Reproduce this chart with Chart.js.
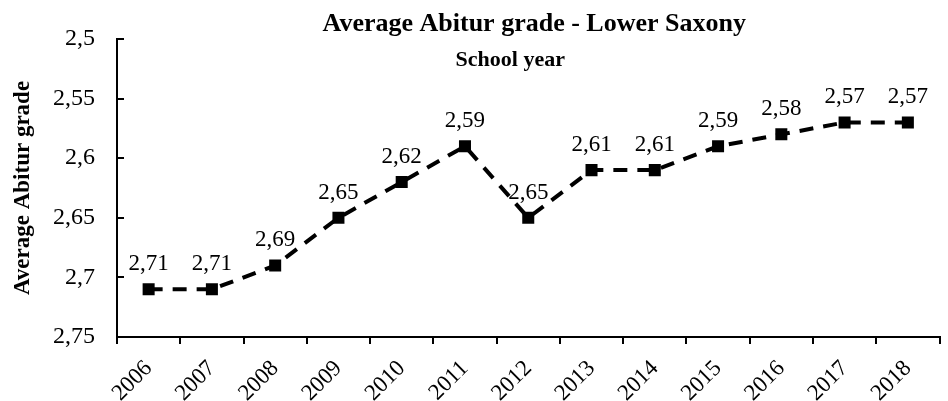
<!DOCTYPE html>
<html>
<head>
<meta charset="utf-8">
<script src="https://cdn.jsdelivr.net/npm/chart.js@4/dist/chart.umd.min.js"></script>
<style>
  body { margin: 0; background: #fff; }
  #wrap { width: 948px; height: 401px; position: relative; }
</style>
</head>
<body>
<div id="wrap"><canvas id="chart"></canvas></div>
<script>
// values
const years = ['2006', '2007', '2008', '2009', '2010', '2011', '2012', '2013', '2014', '2015', '2016', '2017', '2018'];
const grades = [2.71, 2.71, 2.69, 2.65, 2.62, 2.59, 2.65, 2.61, 2.61, 2.59, 2.58, 2.57, 2.57];
const gradeMin = 2.5;
const gradeMax = 2.75;
const gradeStep = 0.05;

const chartTitle = 'Average Abitur grade - Lower Saxony';
const xTitle = 'School year';
const yTitle = 'Average Abitur grade';

const serif = '"Liberation Serif", "Times New Roman", serif';
const comma = v => String(+Number(v).toFixed(2)).replace('.', ',');

// titles on top, centred on the plot like the original
const headings = {
    id: 'headings',
    afterDraw(chart) {
        const { ctx, chartArea } = chart;
        const mid = (chartArea.left + chartArea.right) / 2;
        ctx.save();
        ctx.fillStyle = '#000';
        ctx.textAlign = 'center';
        ctx.textBaseline = 'alphabetic';
        ctx.font = 'bold 26px ' + serif;
        ctx.fillText(chartTitle, mid + 6, 31);
        ctx.font = 'bold 22px ' + serif;
        ctx.fillText(xTitle, mid - 18, 66);
        ctx.restore();
    }
};

// y ticks point into the plot
const innerTicks = {
    id: 'innerTicks',
    afterDraw(chart) {
        const { ctx, chartArea } = chart;
        const y = chart.scales.y;
        ctx.save();
        ctx.strokeStyle = '#000';
        ctx.lineWidth = 2;
        y.ticks.forEach(t => {
            const py = Math.round(y.getPixelForValue(t.value));
            ctx.beginPath();
            ctx.moveTo(chartArea.left, py);
            ctx.lineTo(chartArea.left + 7, py);
            ctx.stroke();
        });
        ctx.restore();
    }
};

// value labels above the markers
const valueLabels = {
    id: 'valueLabels',
    afterDatasetsDraw(chart) {
        const { ctx } = chart;
        const meta = chart.getDatasetMeta(0);
        ctx.save();
        ctx.fillStyle = '#000';
        ctx.font = '23px ' + serif;
        ctx.textAlign = 'center';
        ctx.textBaseline = 'alphabetic';
        meta.data.forEach((pt, i) => {
            ctx.fillText(comma(grades[i]), pt.x, pt.y - 19);
        });
        ctx.restore();
    }
};

new Chart(document.getElementById('chart'), {
    type: 'line',
    data: {
        labels: years,
        datasets: [{
            data: grades,
            borderColor: '#000',
            backgroundColor: '#000',
            borderWidth: 4,
            borderDash: [14, 10],
            pointStyle: 'rect',
            pointRadius: 8.5,
            pointBorderWidth: 0,
            tension: 0,
            fill: false
        }]
    },
    options: {
        responsive: true,
        maintainAspectRatio: false,
        animation: false,
        devicePixelRatio: 1,
        layout: { padding: { top: 39, right: 0, left: 0, bottom: 0 } },
        plugins: {
            legend: { display: false },
            tooltip: { enabled: false }
        },
        scales: {
            x: {
                offset: true,
                grid: {
                    offset: true,
                    drawOnChartArea: false,
                    // the original has no tick at the far right end
                    color: c => (c.index >= years.length ? 'rgba(0,0,0,0)' : '#000'),
                    lineWidth: 2,
                    tickLength: 7
                },
                border: { display: true, color: '#000', width: 2 },
                ticks: {
                    color: '#000',
                    font: { family: serif, size: 23 },
                    minRotation: 45,
                    maxRotation: 45,
                    autoSkip: false,
                    padding: 11
                },
                afterFit: s => { s.height = 64; }
            },
            y: {
                reverse: true,
                min: gradeMin,
                max: gradeMax,
                grid: { drawOnChartArea: false, drawTicks: false },
                border: { display: true, color: '#000', width: 2 },
                ticks: {
                    stepSize: gradeStep,
                    color: '#000',
                    padding: 22,
                    font: { family: serif, size: 24 },
                    callback: v => comma(v)
                },
                title: {
                    display: true,
                    text: yTitle,
                    color: '#000',
                    font: { family: serif, size: 23, weight: 'bold' },
                    padding: { top: 9, bottom: 0 }
                },
                afterFit: s => { s.width = 117; }
            }
        }
    },
    plugins: [headings, innerTicks, valueLabels]
});
</script>
</body>
</html>
